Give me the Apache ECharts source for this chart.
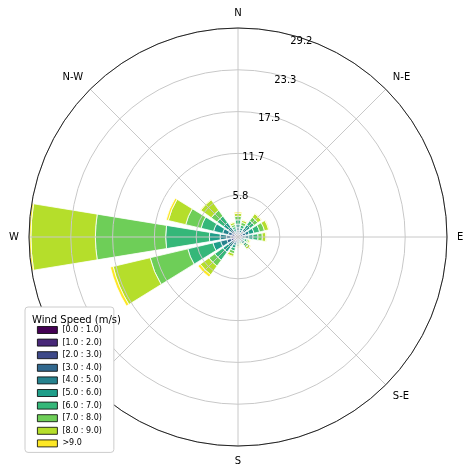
<!DOCTYPE html>
<html>
<head>
<meta charset="utf-8">
<script src="https://cdn.jsdelivr.net/npm/echarts@6/dist/echarts.min.js"></script>
<style>html,body{margin:0;padding:0;background:#fff}#chart{width:474px;height:474px}</style>
</head>
<body>
<div id="chart"></div>
<script>
// 方向
var directions = ['N', 'NNE', 'NE', 'ENE', 'E', 'ESE', 'SE', 'SSE', 'S', 'SSW', 'SW', 'WSW', 'W', 'WNW', 'NW', 'NNW'];
var compassLabels = { 0: 'N', 45: 'N-E', 90: 'E', 135: 'S-E', 180: 'S', 225: 'S-W', 270: 'W', 315: 'N-W' };
var binNames = ['[0.0 : 1.0)', '[1.0 : 2.0)', '[2.0 : 3.0)', '[3.0 : 4.0)', '[4.0 : 5.0)', '[5.0 : 6.0)', '[6.0 : 7.0)', '[7.0 : 8.0)', '[8.0 : 9.0)', '>9.0'];
var binColors = ['#440154', '#482878', '#3e4989', '#31688e', '#26828e', '#1f9e89', '#35b779', '#6ece58', '#b5de2b', '#fde725'];
// 累计频率 (%)，每档的上边界
var cum0 = [0.2, 0.2, 0.2, 0.2, 0.2, 0.1, 0.1, 0.1, 0.1, 0.2, 0.2, 0.3, 0.3, 0.2, 0.2, 0.1];
var cum1 = [0.4, 0.3, 0.4, 0.4, 0.4, 0.3, 0.3, 0.2, 0.2, 0.4, 0.4, 0.6, 0.6, 0.5, 0.4, 0.3];
var cum2 = [0.6, 0.5, 0.7, 0.7, 0.6, 0.4, 0.5, 0.3, 0.4, 0.6, 0.7, 1.0, 1.0, 0.9, 0.7, 0.5];
var cum3 = [0.9, 0.7, 1.0, 1.1, 1.0, 0.6, 0.7, 0.4, 0.5, 0.9, 1.1, 1.6, 1.6, 1.4, 1.1, 0.7];
var cum4 = [1.3, 1.0, 1.5, 1.6, 1.5, 0.8, 0.9, 0.6, 0.7, 1.2, 1.7, 2.5, 2.5, 2.2, 1.7, 0.9];
var cum5 = [1.8, 1.3, 2.1, 2.3, 2.1, 1.0, 1.2, 0.7, 0.9, 1.6, 2.6, 3.6, 4.0, 3.5, 2.5, 1.2];
var cum6 = [2.4, 1.7, 2.8, 3.1, 2.8, 1.3, 1.5, 0.9, 1.1, 2.0, 4.0, 7.2, 10.1, 5.3, 3.6, 1.5];
var cum7 = [2.9, 2.1, 3.4, 3.8, 3.4, 1.5, 1.8, 1.0, 1.3, 2.4, 5.0, 12.6, 19.9, 7.5, 4.6, 1.8];
var cum8 = [3.3, 2.4, 4.0, 4.4, 3.9, 1.7, 2.1, 1.1, 1.4, 2.8, 6.5, 17.9, 28.9, 10.0, 6.4, 2.1];
var cum9 = [3.5, 2.5, 4.1, 4.5, 4.0, 1.8, 2.2, 1.2, 1.5, 2.9, 6.9, 18.3, 29.16, 10.3, 6.5, 2.2];
var cumList = [cum0, cum1, cum2, cum3, cum4, cum5, cum6, cum7, cum8, cum9];
var rMax = 29.16;

var chartObj = echarts.init(document.getElementById('chart'));

var series = [];
for (var i = 0; i < cumList.length; i++) {
	var data = [];
	for (var j = 0; j < directions.length; j++) {
		var prev = i > 0 ? cumList[i - 1][j] : 0;
		data.push(+(cumList[i][j] - prev).toFixed(2));
	}
	series.push({
		name: binNames[i],
		type: 'bar',
		coordinateSystem: 'polar',
		polarIndex: 0,
		stack: 'wind',
		barCategoryGap: '18%',
		data: data,
		itemStyle: { color: binColors[i], borderColor: '#fff', borderWidth: 0.8 }
	});
}

var center = [238, 237];
var radius = 209;

var option = {
	animation: false,
	title: {
		text: 'Wind Speed (m/s)',
		left: 27, top: 310, z: 20,
		textStyle: { fontSize: 10, fontWeight: 'normal', color: '#000', fontFamily: 'DejaVu Sans' }
	},
	legend: {
		orient: 'vertical',
		left: 25, top: 307, z: 19,
		padding: [19, 12, 5, 12],
		itemWidth: 20, itemHeight: 7, itemGap: 4.6,
		backgroundColor: '#fff',
		borderColor: '#ccc', borderWidth: 1, borderRadius: 3,
		icon: 'rect',
		itemStyle: { borderColor: '#000', borderWidth: 0.8 },
		textStyle: { fontSize: 8, color: '#000', fontFamily: 'DejaVu Sans' },
		data: binNames
	},
	polar: [
		{ center: center, radius: radius },
		{ center: center, radius: radius },
		{ center: center, radius: radius }
	],
	angleAxis: [
		{
			polarIndex: 0, type: 'category', data: directions,
			startAngle: 90 + 11.25, boundaryGap: true,
			axisLine: { show: false }, axisTick: { show: false },
			axisLabel: { show: false }, splitLine: { show: false }
		},
		{
			polarIndex: 1, type: 'value', min: 0, max: 360, interval: 45,
			startAngle: 90, z: 10,
			axisLine: { lineStyle: { color: '#222', width: 1 } },
			axisTick: { show: false },
			axisLabel: {
				margin: 10, fontSize: 10, color: '#000', fontFamily: 'DejaVu Sans',
				formatter: function (v) { return compassLabels[v] || ''; }
			},
			splitLine: { show: true, lineStyle: { color: '#c8c8c8', width: 1 } }
		},
		{
			polarIndex: 2, type: 'value', min: 0, max: 360,
			startAngle: 90 - 22.5, show: false
		}
	],
	radiusAxis: [
		{
			polarIndex: 0, type: 'value', min: 0, max: rMax,
			axisLine: { show: false }, axisTick: { show: false },
			axisLabel: { show: false }, splitLine: { show: false }
		},
		{
			polarIndex: 1, type: 'value', min: 0, max: rMax, interval: rMax / 5, z: 10,
			axisLine: { show: false }, axisTick: { show: false }, axisLabel: { show: false },
			splitLine: { show: true, lineStyle: { color: '#c8c8c8', width: 1 } }
		},
		{
			polarIndex: 2, type: 'value', min: 0, max: rMax, interval: rMax / 5, z: 11,
			axisLine: { show: false }, axisTick: { show: false }, splitLine: { show: false },
			axisLabel: {
				fontSize: 10, color: '#000', fontFamily: 'DejaVu Sans', margin: 6,
				formatter: function (v) { return v === 0 ? '' : v.toFixed(1); }
			}
		}
	],
	series: series
};

chartObj.setOption(option);
</script>
</body>
</html>
